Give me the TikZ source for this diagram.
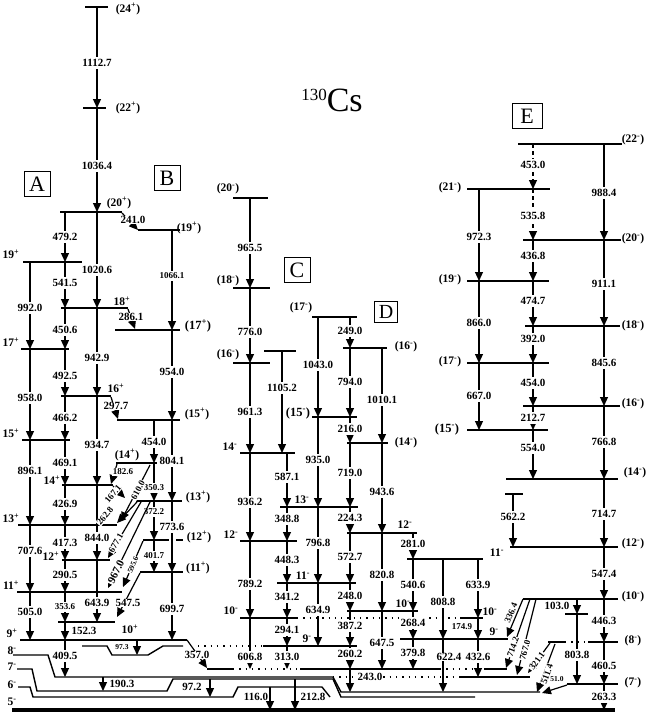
\documentclass[tikz,border=0pt]{standalone}
\usepackage{fontspec}
\setmainfont{Liberation Serif}
\usetikzlibrary{arrows.meta}
\newcommand{\jp}[2]{(#1\textsuperscript{#2})}
\newcommand{\jn}[2]{#1\textsuperscript{#2}}

\begin{document}
\begin{tikzpicture}[x=1pt,y=-1pt,
    lev/.style={line width=1.4pt},
    gnd/.style={line width=3.2pt},
    dotlev/.style={line width=1.4pt,dash pattern=on 1.3pt off 5pt},
    tr/.style={line width=1.2pt,-{Triangle[length=9pt,width=8pt]}},
    dtr/.style={tr,dash pattern=on 4pt off 3pt},
    lbl/.style={fill=white,inner xsep=0.8pt,inner ysep=2pt,font=\bfseries\fontsize{11}{11}\selectfont},
    slbl/.style={lbl,font=\bfseries\fontsize{9}{9}\selectfont},
    tlbl/.style={lbl,inner ysep=1pt,font=\bfseries\fontsize{7.5}{7.5}\selectfont},
    rlbl/.style={fill=white,inner sep=0.6pt,font=\bfseries\fontsize{9}{9}\selectfont},
    spin/.style={inner sep=0pt,font=\bfseries\fontsize{11.5}{11.5}\selectfont},
    bspin/.style={spin,font=\bfseries\fontsize{12.5}{12.5}\selectfont},
    bandbox/.style={draw,line width=0.8pt,minimum width=26pt,minimum height=25pt,
                    inner sep=0pt,font=\fontsize{22}{22}\selectfont}
  ]
  \useasboundingbox (0,0) rectangle (648,717);

  % title and band boxes
  \node (title) at (332,100) {{\fontsize{17}{17}\selectfont\raisebox{11pt}{130}}{\fontsize{34}{34}\selectfont Cs}};
  \node[bandbox] (bA) at (37,184) {A};
  \node[bandbox] (bB) at (167,178) {B};
  \node[bandbox] (bC) at (297,270) {C};
  \node[bandbox,minimum width=23pt,minimum height=21pt,font=\fontsize{20}{20}\selectfont] (bD) at (386,312) {D};
  \node[bandbox,minimum width=30pt] (bE) at (527,116) {E};

  % levels
  \foreach \xa/\xb/\y in {85/108/7, 83/106/108, 60/122/212, 23/82/262, 61/128/308,
      21/69/349, 61/111/396, 22/70/440, 62/113/485, 18/117/525, 62/110/560,
      17/122/592, 58/115/622,
      138/180/230, 115/180/330, 117/180/420, 116/157/463, 136/182/501,
      143/169/540, 176/183/540, 140/183/572,
      233/268/198, 233/270/288, 233/270/363, 264/296/351, 240/295/453,
      280/358/507, 240/297/541, 277/356/583, 240/297/618, 460/483/618, 263/357/646,
      312/357/317, 343/387/348, 312/357/417, 347/388/443, 347/417/533,
      407/483/559, 347/418/611, 400/508/639,
      207/233/669, 300/440/669, 485/507/669, 460/530/677,
      518/622/144, 467/550/189, 523/621/240, 467/549/281, 525/620/326,
      467/549/363, 523/620/406, 467/548/430, 506/618/479, 505/523/494,
      510/618/547, 523/618/599, 565/588/614, 548/565/642, 588/618/642, 567/618/684}
    \draw[lev] (\xa,\y) -- (\xb,\y);
  \foreach \xa/\xb/\y in {297/460/618, 198/263/646, 233/300/669, 440/485/669,
      333/460/677, 565/588/642}
    \draw[dotlev] (\xa,\y) -- (\xb,\y);
  \draw[lev] (20,640) -- (187,640);
  \draw[lev] (82,646) -- (107,646) -- (112,655) -- (148,655) -- (163,646) -- (183,646);
  \draw[lev] (13,655) -- (48,655) -- (55,677) -- (333,677) -- (341,692) -- (540,692);
  \draw[lev] (17,669) -- (32,669) -- (37,691) -- (167,691) -- (173,679) -- (333,679) -- (341,697) -- (475,697);
  \draw[lev] (18,687) -- (30,687) -- (33,697) -- (233,697) -- (238,687) -- (322,687) -- (330,697);
  \draw[gnd] (12,710) -- (615,710);

  % transitions with the energy on the line
  \foreach \x/\ya/\yb/\ly/\e in {97/7/108/63/1112.7, 97/108/212/166/1036.4,
      65/212/262/237/479.2, 97/212/308/270/1020.6, 65/262/308/283/541.5,
      30/262/349/308/992.0, 65/308/349/330/450.6, 97/308/396/358/942.9,
      65/349/396/376/492.5, 30/349/440/398/958.0, 65/396/440/418/466.2,
      97/396/485/445/934.7, 65/440/485/463/469.1, 30/440/525/471/896.1,
      65/485/525/504/426.9, 97/485/560/538/844.0, 30/525/592/551/707.6,
      65/525/560/543/417.3, 65/560/592/575/290.5, 97/560/622/603/643.9,
      30/592/640/612/505.0, 65/640/677/656/409.5,
      172/330/420/372/954.0, 172/420/501/461/804.1, 154/420/463/442/454.0,
      172/501/572/527/773.6, 172/572/640/609/699.7,
      250/198/288/248/965.5, 250/288/363/332/776.0, 250/363/453/412/961.3,
      282/351/453/388/1105.2, 250/453/541/502/936.2, 287/453/507/477/587.1,
      287/507/541/519/348.8, 287/541/583/560/448.3, 250/541/618/584/789.2,
      287/583/618/597/341.2, 287/618/646/630/294.1, 250/618/669/657/606.8,
      287/646/669/657/313.0,
      318/317/417/365/1043.0, 350/317/348/331/249.0, 382/348/443/400/1010.1,
      350/348/417/382/794.0, 350/417/443/429/216.0, 318/417/507/460/935.0,
      350/443/507/473/719.0, 382/443/533/492/943.6, 350/507/533/518/224.3,
      318/507/583/543/796.8, 350/533/583/557/572.7, 382/533/611/575/820.8,
      318/583/646/610/634.9, 350/583/611/596/248.0, 350/611/646/626/387.2,
      382/611/669/643/647.5, 350/646/669/654/260.2, 413/533/559/544/281.0,
      413/559/611/585/540.6, 413/611/639/623/268.4, 413/639/669/653/379.8,
      443/559/639/602/808.8, 478/559/618/585/633.9, 478/639/677/657/432.6,
      604/144/240/193/988.4, 479/189/281/237/972.3, 533/240/281/256/436.8,
      604/240/326/284/911.1, 533/281/326/301/474.7, 479/281/363/323/866.0,
      533/326/363/339/392.0, 604/326/406/363/845.6, 533/363/406/383/454.0,
      479/363/430/396/667.0, 533/406/430/418/212.7, 604/406/479/442/766.8,
      533/430/479/448/554.0, 604/479/547/514/714.7, 513/494/547/517/562.2,
      604/547/599/574/547.4, 604/599/642/621/446.3, 577/614/684/655/803.8,
      604/642/684/666/460.5, 604/684/710/697/263.3}
  {
    \draw[tr] (\x,\ya) -- (\x,\yb);
    \node[lbl] at (\x,\ly) {\e};
  }
  \foreach \x/\ya/\yb/\ly/\e in {172/230/330/276/1066.1, 154/463/501/488/350.3,
      154/501/540/512/372.2, 154/540/572/556/401.7, 65/592/622/607/353.6}
  {
    \draw[tr] (\x,\ya) -- (\x,\yb);
    \node[slbl] at (\x,\ly) {\e};
  }
  \draw[dtr] (533,144) -- (533,189);
  \node[lbl] at (533,165) {453.0};
  \draw[dtr] (533,189) -- (533,240);
  \node[lbl] at (533,216) {535.8};

  % transitions with the energy beside the line
  \foreach \x/\ya/\yb/\lx/\ly/\e in {103/677/691/122/684/190.3,
      210/679/697/192/687/97.2, 270/687/710/256/697/116.0,
      295/679/710/313/697/212.8, 65/622/640/84/631/152.3,
      350/669/692/370/677/243.0, 443/639/692/449/657/622.4, 577/599/614/557/606/103.0}
  {
    \draw[tr] (\x,\ya) -- (\x,\yb);
    \node[lbl,inner ysep=0.6pt] at (\lx,\ly) {\e};
  }
  \draw[tr] (137,640) -- (137,655);
  \node[tlbl] at (122,647) {97.3};
  \draw[tr] (478,618) -- (478,639);
  \node[slbl,inner ysep=0.6pt] at (462,627) {174.9};

  % sloped transitions
  \foreach \xa/\ya/\xb/\yb/\lx/\ly/\r/\e in {122/213/138/230/133/220/0/241.0,
      128/309/135/329/131/317/0/286.1, 111/397/118/419/116/406/0/297.7,
      140/573/117/617/128/603/0/547.5, 150/502/108/588/116/572/64/967.0,
      187/640/207/668/197/655/0/357.0}
  {
    \draw[tr] (\xa,\ya) -- (\xb,\yb);
    \node[lbl,inner ysep=0.6pt,rotate=\r] at (\lx,\ly) {\e};
  }
  \foreach \xa/\ya/\xb/\yb/\lx/\ly/\r/\e in {117/464/111/484/123/472/0/182.6,
      113/486/125/498/113/494/50/167.1, 150/465/121/521/138/490/62/610.0,
      137/502/117/523/105/516/50/262.8, 141/502/108/558/116/543/60/677.1,
      523/599/507/637/511/613/67/336.4, 530/599/506/668/513/647/70/714.2,
      536/599/517/675/525/650/75/767.0, 550/643/528/673/537/661/55/321.1,
      555/644/537/692/547/674/70/511.4}
  {
    \draw[tr] (\xa,\ya) -- (\xb,\yb);
    \node[rlbl,rotate=\r] at (\lx,\ly) {\e};
  }
  \draw[tr] (143,541) -- (123,587);
  \node[rlbl,font=\bfseries\fontsize{7.5}{7.5}\selectfont,rotate=66] at (133,565) {595.6};
  \draw[tr] (567,685) -- (542,693);
  \node[tlbl,inner ysep=0.6pt] at (557,679) {51.0};

  % spins
  \foreach \x/\y/\t in {128/9/{\jp{24}{+}}, 128/108/{\jp{22}{+}}, 119/203/{\jp{20}{+}},
      11/254/{\jn{19}{+}}, 122/301/{\jn{18}{+}}, 11/342/{\jn{17}{+}},
      116/388/{\jn{16}{+}}, 11/433/{\jn{15}{+}}, 52/480/{\jn{14}{+}},
      11/518/{\jn{13}{+}}, 51/556/{\jn{12}{+}}, 11/585/{\jn{11}{+}},
      130/629/{\jn{10}{+}}, 12/633/{\jn{9}{+}}, 12/651/{\jn{8}{-}},
      12/667/{\jn{7}{-}}, 12/685/{\jn{6}{-}}, 12/702/{\jn{5}{-}},
      189/228/{\jp{19}{+}}, 197/414/{\jp{15}{+}},
      127/455/{\jp{14}{+}}, 198/497/{\jp{13}{+}}, 199/537/{\jp{12}{+}},
      198/568/{\jp{11}{+}},
      228/189/{\jp{20}{-}}, 228/281/{\jp{18}{-}}, 228/355/{\jp{16}{-}},
      230/447/{\jn{14}{-}}, 302/500/{\jn{13}{-}}, 231/535/{\jn{12}{-}},
      303/576/{\jn{11}{-}}, 231/611/{\jn{10}{-}}, 307/639/{\jn{9}{-}},
      301/308/{\jp{17}{-}}, 406/347/{\jp{16}{-}},
      406/443/{\jp{14}{-}}, 405/525/{\jn{12}{-}}, 403/604/{\jn{10}{-}},
      497/553/{\jn{11}{-}}, 490/612/{\jn{10}{-}}, 494/632/{\jn{9}{-}},
      633/140/{\jp{22}{-}}, 450/188/{\jp{21}{-}}, 633/239/{\jp{20}{-}},
      450/280/{\jp{19}{-}}, 633/326/{\jp{18}{-}}, 450/362/{\jp{17}{-}},
      633/404/{\jp{16}{-}}, 635/473/{\jp{14}{-}},
      633/544/{\jp{12}{-}}, 633/597/{\jp{10}{-}}, 633/641/{\jp{8}{-}},
      633/683/{\jp{7}{-}}}
    \node[spin] at (\x,\y) {\t};
  \foreach \x/\y/\t in {198/326/{\jp{17}{+}}, 298/413/{\jp{15}{-}}, 447/429/{\jp{15}{-}}}
    \node[bspin] at (\x,\y) {\t};
\end{tikzpicture}
\end{document}
